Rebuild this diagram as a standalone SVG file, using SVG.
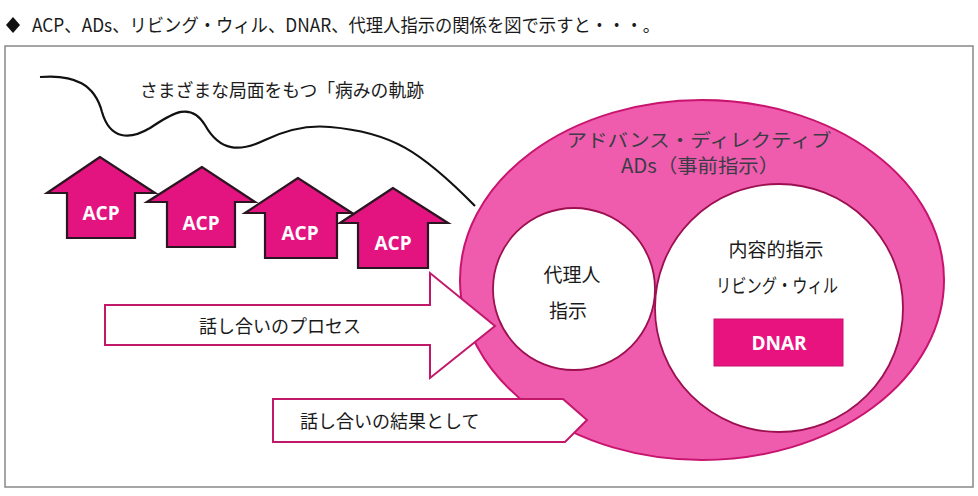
<svg xmlns="http://www.w3.org/2000/svg" width="978" height="496" viewBox="0 0 978 496">
<style>
.t{font-family:"Noto Sans CJK JP","Noto Sans",sans-serif;fill:#1a1a1a}
.acp{fill:#e3137f;stroke:#2a1520;stroke-width:2.2;stroke-linejoin:miter}
.acpt{font-family:"Open Sans","Noto Sans",sans-serif;font-weight:bold;font-size:19px;fill:#fff;text-anchor:middle}
.wa{fill:#fff;stroke:#c2186a;stroke-width:2}
.grey{fill:#3c3c46}
</style>
<rect width="978" height="496" fill="#fff"/>
<g id="title">
<path d="M6 25 L13 17 L20 25 L13 33 Z" fill="#111"/>
<text class="t" x="32" y="32" font-size="18.5" textLength="628" lengthAdjust="spacingAndGlyphs">ACP、ADs、リビング・ウィル、DNAR、代理人指示の関係を図で示すと・・・。</text>
</g>
<rect id="frame" x="5" y="46" width="968" height="441" fill="none" stroke="#888" stroke-width="1.5"/>
<g id="trajectory">
<path d="M40 77 C75 74 95 85 102 112 C110 140 130 140 150 128 C170 115 190 100 205 125 C220 152 240 152 265 140 C290 128 310 125 330 127 C390 132 420 150 475 206" fill="none" stroke="#111" stroke-width="2.2"/>
<text class="t" x="140" y="97" font-size="18" textLength="284" lengthAdjust="spacingAndGlyphs">さまざまな局面をもつ「病みの軌跡</text>
</g>
<g id="acp1"><path class="acp" d="M100 157 L47 193 L67 193 L67 238 L135 238 L135 193 L155 193 Z"/><text class="acpt" x="101" y="220">ACP</text></g>
<g id="acp2"><path class="acp" d="M202 167 L147 202 L167 202 L167 247 L235 247 L235 202 L255 202 Z"/><text class="acpt" x="201" y="230">ACP</text></g>
<g id="acp3"><path class="acp" d="M298 178 L245 213 L265 213 L265 258 L337 258 L337 213 L352 213 Z"/><text class="acpt" x="300" y="240">ACP</text></g>
<g id="acp4"><path class="acp" d="M393 188 L340 223 L358 223 L358 268 L428 268 L428 223 L448 223 Z"/><text class="acpt" x="393" y="250">ACP</text></g>
<g id="ads">
<ellipse cx="702" cy="280" rx="242" ry="180" fill="#ef5cad" stroke="#c8146e" stroke-width="2"/>
<text class="t grey" x="699" y="147" font-size="18.5" text-anchor="middle" textLength="265" lengthAdjust="spacingAndGlyphs">アドバンス・ディレクティブ</text>
<text class="t grey" x="700" y="173" font-size="19.5" text-anchor="middle" textLength="158" lengthAdjust="spacingAndGlyphs">ADs（事前指示）</text>
</g>
<g id="proxy">
<circle cx="574" cy="289" r="81" fill="#fff" stroke="#9c1050" stroke-width="1.8"/>
<text class="t" x="572" y="282" font-size="19" text-anchor="middle">代理人</text>
<text class="t" x="568" y="318" font-size="19" text-anchor="middle">指示</text>
</g>
<g id="content">
<circle cx="779" cy="308" r="124" fill="#fff" stroke="#9c1050" stroke-width="1.8"/>
<text class="t" x="776" y="257" font-size="19" text-anchor="middle">内容的指示</text>
<text class="t" x="777" y="293" font-size="19" text-anchor="middle" textLength="122" lengthAdjust="spacingAndGlyphs">リビング・ウィル</text>
</g>
<g id="dnar">
<rect x="714" y="319" width="129" height="47" fill="#e8137f" stroke="#c8106e" stroke-width="1"/>
<text class="acpt" x="779" y="350">DNAR</text>
</g>
<g id="connectors">
<g id="process">
<path class="wa" d="M105 305 L430 305 L430 273 L495 326 L430 378 L430 345 L105 345 Z"/>
<text class="t" x="280" y="333" font-size="18" text-anchor="middle">話し合いのプロセス</text>
</g>
<g id="result">
<path class="wa" d="M273 399 L563 399 L587 420 L565 442 L273 442 Z"/>
<text class="t" x="300" y="428" font-size="18">話し合いの結果として</text>
</g>
</g>
</svg>
